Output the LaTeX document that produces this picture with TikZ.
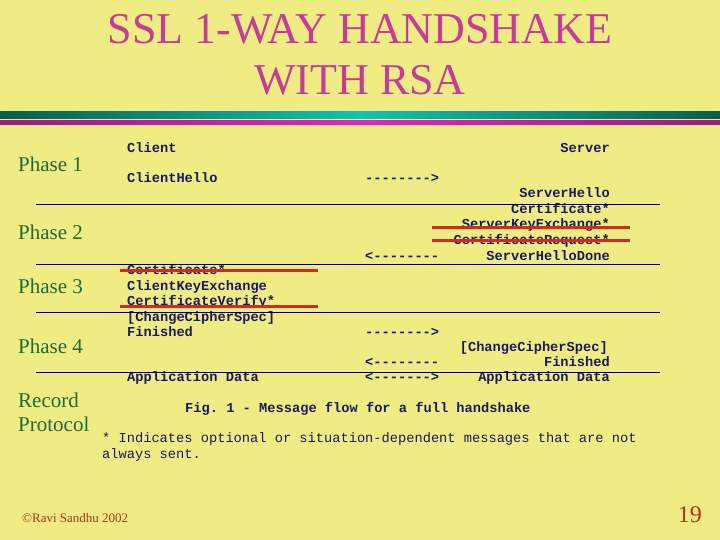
\documentclass[tikz,border=0pt]{standalone}
\usepackage{fontspec}
\setmainfont{Liberation Serif}
\setmonofont{Liberation Mono}
\usetikzlibrary{positioning}
\usepackage{xcolor}
\definecolor{slidebg}{HTML}{F0EC84}
\definecolor{titlepink}{HTML}{C63C98}
\definecolor{phasegreen}{HTML}{1E6A38}
\definecolor{msgblue}{HTML}{1A1A5C}
\definecolor{strikered}{HTML}{D42A1E}
\definecolor{footred}{HTML}{B4321E}
\definecolor{tealdark}{HTML}{0B5C52}
\definecolor{teallight}{HTML}{12C2B2}
\definecolor{pinkdark}{HTML}{A01A82}
\definecolor{pinklight}{HTML}{E024C4}

\begin{document}
\begin{tikzpicture}[x=1pt, y=-1pt,
	title/.style={anchor=base, inner sep=0pt, text=titlepink, font=\fontsize{44}{48}\selectfont},
	phase/.style={anchor=base west, inner sep=0pt, text=phasegreen, font=\fontsize{21}{24}\selectfont},
	msg/.style={anchor=base west, inner sep=0pt, text=msgblue, font=\ttfamily\bfseries\fontsize{13.7}{15}\selectfont},
	srv/.style={msg, anchor=base east},
	note/.style={msg, font=\ttfamily\fontsize{13.7}{15}\selectfont},
	sep/.style={black, line width=0.9pt},
	strike/.style={strikered, line width=3pt},
	foot/.style={inner sep=0pt, text=footred}]
	% background and page frame
	\fill[slidebg] (0,0) rectangle (720,540);
	\useasboundingbox (0,0) rectangle (720,540);
	% title
	\node[title] (t1) at (360,44) {SSL 1-WAY HANDSHAKE};
	\node[title] (t2) at (360,95) {WITH RSA};
	\shade[left color=tealdark, right color=tealdark, middle color=teallight] (0,112) rectangle (720,118.5);
	\shade[left color=pinkdark, right color=pinkdark, middle color=pinklight] (0,121) rectangle (720,125);
	% phases
	\node[phase] (ph1) at (18,172) {Phase 1};
	\node[phase] (ph2) at (18,240) {Phase 2};
	\node[phase] (ph3) at (18,293) {Phase 3};
	\node[phase] (ph4) at (18,353) {Phase 4};
	\node[phase] (rec) at (18,407) {Record};
	\node[phase] (prot) at (18,431) {Protocol};
	% client side
	\node[msg] (client) at (127,153) {Client};
	\node[msg] (chello) at (127,183) {ClientHello};
	\node[msg] (ccert) at (127,274) {Certificate*};
	\node[msg] (ckex) at (127,290) {ClientKeyExchange};
	\node[msg] (cverify) at (127,305) {CertificateVerify*};
	\node[msg] (cccs) at (127,321) {[ChangeCipherSpec]};
	\node[msg] (cfin) at (127,336) {Finished};
	\node[msg] (cdata) at (127,381) {Application Data};
	% arrows
	\node[msg] (a1) at (365,183) {-------->};
	\node[msg] (a2) at (365,260) {<--------};
	\node[msg] (a3) at (365,336) {-------->};
	\node[msg] (a4) at (365,366) {<--------};
	\node[msg] (a5) at (365,381) {<------->};
	% server side
	\node[srv] (server) at (610,153) {Server};
	\node[srv] (shello) at (610,198) {ServerHello};
	\node[srv] (scert) at (610,214) {Certificate*};
	\node[srv] (skex) at (610,229) {ServerKeyExchange*};
	\node[srv] (sreq) at (610,244) {CertificateRequest*};
	\node[srv] (sdone) at (610,260) {ServerHelloDone};
	\node[srv] (sccs) at (608,351) {[ChangeCipherSpec]};
	\node[srv] (sfin) at (610,366) {Finished};
	\node[srv] (sdata) at (610,381) {Application Data};
	% phase separators
	\foreach \y/\n in {204/a, 264/b, 312/c, 372/d} {
		\coordinate (sep\n l) at (36,\y);
		\coordinate (sep\n r) at (660,\y);
		\draw[sep] (sep\n l) -- (sep\n r);
	}
	% struck-out messages
	\coordinate (rk1) at (432,228); \coordinate (rk2) at (630,228);
	\coordinate (rq1) at (432,240); \coordinate (rq2) at (630,240);
	\coordinate (rc1) at (120,270); \coordinate (rc2) at (318,270);
	\coordinate (rv1) at (120,306); \coordinate (rv2) at (318,306);
	\draw[strike] (rk1) -- (rk2);
	\draw[strike] (rq1) -- (rq2);
	\draw[strike] (rc1) -- (rc2);
	\draw[strike] (rv1) -- (rv2);
	% caption and note
	\node[msg] (fig) at (185,412) {Fig. 1 - Message flow for a full handshake};
	\node[note] (star1) at (102,442) {* Indicates optional or situation-dependent messages that are not};
	\node[note] (star2) at (102,458) {always sent.};
	% footer
	\node[foot, anchor=base west, font=\fontsize{13}{15}\selectfont] (copy) at (22,522) {\textcopyright Ravi Sandhu 2002};
	\node[foot, anchor=base east, font=\fontsize{24}{26}\selectfont] (page) at (702,522) {19};
\end{tikzpicture}
\end{document}
